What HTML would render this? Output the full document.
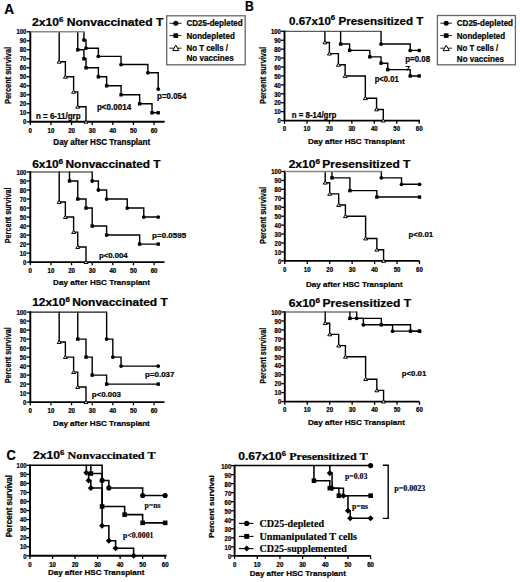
<!DOCTYPE html>
<html><head><meta charset="utf-8"><style>
html,body{margin:0;padding:0;background:#fff;}
body{width:520px;height:582px;overflow:hidden;}
svg{display:block;}
.sans{font-family:"Liberation Sans", sans-serif;font-weight:bold;stroke:#000;stroke-width:0.22px;}
.serif{font-family:"Liberation Serif", serif;font-weight:bold;stroke:#000;stroke-width:0.15px;}
</style></head><body>
<svg width="520" height="582" viewBox="0 0 520 582">
<rect width="520" height="582" fill="#fff"/>
<text x="4.2" y="13.9" class="sans" font-size="14.4" textLength="9.8" lengthAdjust="spacingAndGlyphs" fill="#000">A</text>
<text x="245" y="11.1" class="sans" font-size="14" textLength="8.8" lengthAdjust="spacingAndGlyphs" fill="#000">B</text>
<text x="6.4" y="459.5" class="sans" font-size="14.6" textLength="9.3" lengthAdjust="spacingAndGlyphs" fill="#000">C</text>
<line x1="26.7" y1="121.8" x2="30.3" y2="121.8" stroke="#000" stroke-width="1.3"/>
<text x="26.4" y="124.3" class="sans" font-size="6.5" text-anchor="end" textLength="3.3" lengthAdjust="spacingAndGlyphs" fill="#000">0</text>
<line x1="26.7" y1="112.8" x2="30.3" y2="112.8" stroke="#000" stroke-width="1.3"/>
<text x="26.4" y="115.3" class="sans" font-size="6.5" text-anchor="end" textLength="6.6" lengthAdjust="spacingAndGlyphs" fill="#000">10</text>
<line x1="26.7" y1="103.8" x2="30.3" y2="103.8" stroke="#000" stroke-width="1.3"/>
<text x="26.4" y="106.3" class="sans" font-size="6.5" text-anchor="end" textLength="6.6" lengthAdjust="spacingAndGlyphs" fill="#000">20</text>
<line x1="26.7" y1="94.8" x2="30.3" y2="94.8" stroke="#000" stroke-width="1.3"/>
<text x="26.4" y="97.3" class="sans" font-size="6.5" text-anchor="end" textLength="6.6" lengthAdjust="spacingAndGlyphs" fill="#000">30</text>
<line x1="26.7" y1="85.8" x2="30.3" y2="85.8" stroke="#000" stroke-width="1.3"/>
<text x="26.4" y="88.3" class="sans" font-size="6.5" text-anchor="end" textLength="6.6" lengthAdjust="spacingAndGlyphs" fill="#000">40</text>
<line x1="26.7" y1="76.8" x2="30.3" y2="76.8" stroke="#000" stroke-width="1.3"/>
<text x="26.4" y="79.3" class="sans" font-size="6.5" text-anchor="end" textLength="6.6" lengthAdjust="spacingAndGlyphs" fill="#000">50</text>
<line x1="26.7" y1="67.8" x2="30.3" y2="67.8" stroke="#000" stroke-width="1.3"/>
<text x="26.4" y="70.3" class="sans" font-size="6.5" text-anchor="end" textLength="6.6" lengthAdjust="spacingAndGlyphs" fill="#000">60</text>
<line x1="26.7" y1="58.8" x2="30.3" y2="58.8" stroke="#000" stroke-width="1.3"/>
<text x="26.4" y="61.3" class="sans" font-size="6.5" text-anchor="end" textLength="6.6" lengthAdjust="spacingAndGlyphs" fill="#000">70</text>
<line x1="26.7" y1="49.8" x2="30.3" y2="49.8" stroke="#000" stroke-width="1.3"/>
<text x="26.4" y="52.3" class="sans" font-size="6.5" text-anchor="end" textLength="6.6" lengthAdjust="spacingAndGlyphs" fill="#000">80</text>
<line x1="26.7" y1="40.8" x2="30.3" y2="40.8" stroke="#000" stroke-width="1.3"/>
<text x="26.4" y="43.3" class="sans" font-size="6.5" text-anchor="end" textLength="6.6" lengthAdjust="spacingAndGlyphs" fill="#000">90</text>
<line x1="26.7" y1="31.8" x2="30.3" y2="31.8" stroke="#000" stroke-width="1.3"/>
<text x="26.4" y="34.3" class="sans" font-size="6.5" text-anchor="end" textLength="9.9" lengthAdjust="spacingAndGlyphs" fill="#000">100</text>
<line x1="30.3" y1="121.8" x2="30.3" y2="125" stroke="#000" stroke-width="1.3"/>
<text x="30.3" y="132.8" class="sans" font-size="6.4" text-anchor="middle" textLength="3.4" lengthAdjust="spacingAndGlyphs" fill="#000">0</text>
<line x1="50.93" y1="121.8" x2="50.93" y2="125" stroke="#000" stroke-width="1.3"/>
<text x="50.93" y="132.8" class="sans" font-size="6.4" text-anchor="middle" textLength="6.8" lengthAdjust="spacingAndGlyphs" fill="#000">10</text>
<line x1="71.56" y1="121.8" x2="71.56" y2="125" stroke="#000" stroke-width="1.3"/>
<text x="71.56" y="132.8" class="sans" font-size="6.4" text-anchor="middle" textLength="6.8" lengthAdjust="spacingAndGlyphs" fill="#000">20</text>
<line x1="92.19" y1="121.8" x2="92.19" y2="125" stroke="#000" stroke-width="1.3"/>
<text x="92.19" y="132.8" class="sans" font-size="6.4" text-anchor="middle" textLength="6.8" lengthAdjust="spacingAndGlyphs" fill="#000">30</text>
<line x1="112.82" y1="121.8" x2="112.82" y2="125" stroke="#000" stroke-width="1.3"/>
<text x="112.82" y="132.8" class="sans" font-size="6.4" text-anchor="middle" textLength="6.8" lengthAdjust="spacingAndGlyphs" fill="#000">40</text>
<line x1="133.45" y1="121.8" x2="133.45" y2="125" stroke="#000" stroke-width="1.3"/>
<text x="133.45" y="132.8" class="sans" font-size="6.4" text-anchor="middle" textLength="6.8" lengthAdjust="spacingAndGlyphs" fill="#000">50</text>
<line x1="154.08" y1="121.8" x2="154.08" y2="125" stroke="#000" stroke-width="1.3"/>
<text x="154.08" y="132.8" class="sans" font-size="6.4" text-anchor="middle" textLength="6.8" lengthAdjust="spacingAndGlyphs" fill="#000">60</text>
<path d="M30.3 31V121.8H164.7" fill="none" stroke="#000" stroke-width="1.9"/>
<text x="0" y="0" class="sans" font-size="8.5" text-anchor="middle" textLength="57" lengthAdjust="spacingAndGlyphs" transform="translate(11.1 75.4) rotate(-90)">Percent survival</text>
<text x="53.3" y="145.1" class="sans" font-size="8.2" textLength="96.9" lengthAdjust="spacingAndGlyphs" fill="#000">Day after HSC Transplant</text>
<path d="M59.18 32.1V61.77H65.37V76.8H73.62V91.83H77.75V106.77H86V121.8" fill="none" stroke="#000" stroke-width="1.4" stroke-linejoin="miter" stroke-linecap="square"/>
<path d="M77.75 32.1V49.8H83.94V58.8H86V67.8H98.38V76.8H106.63V85.8H121.07V94.8H139.64V103.8H152.02V112.8H158.21" fill="none" stroke="#000" stroke-width="1.4" stroke-linejoin="miter" stroke-linecap="square"/>
<path d="M83.94 32.1V39.99H86V48.18H98.38V56.37H121.07V64.56H147.89V72.75H158.21V89.04" fill="none" stroke="#000" stroke-width="1.4" stroke-linejoin="miter" stroke-linecap="square"/>
<line x1="30.3" y1="31.8" x2="84.34" y2="31.8" stroke="#8a8a8a" stroke-width="1.4"/>
<path d="M57.18 63.17L61.18 63.17L59.18 60.17Z" fill="#fff" stroke="#000" stroke-width="1"/>
<path d="M63.37 78.2L67.37 78.2L65.37 75.2Z" fill="#fff" stroke="#000" stroke-width="1"/>
<path d="M71.62 93.23L75.62 93.23L73.62 90.23Z" fill="#fff" stroke="#000" stroke-width="1"/>
<path d="M75.75 108.17L79.75 108.17L77.75 105.17Z" fill="#fff" stroke="#000" stroke-width="1"/>
<path d="M84 123.2L88 123.2L86 120.2Z" fill="#fff" stroke="#000" stroke-width="1"/>
<rect x="76.05" y="48.1" width="3.4" height="3.4" fill="#000"/>
<rect x="82.24" y="57.1" width="3.4" height="3.4" fill="#000"/>
<rect x="84.3" y="66.1" width="3.4" height="3.4" fill="#000"/>
<rect x="96.68" y="75.1" width="3.4" height="3.4" fill="#000"/>
<rect x="104.93" y="84.1" width="3.4" height="3.4" fill="#000"/>
<rect x="119.37" y="93.1" width="3.4" height="3.4" fill="#000"/>
<rect x="137.94" y="102.1" width="3.4" height="3.4" fill="#000"/>
<rect x="150.32" y="111.1" width="3.4" height="3.4" fill="#000"/>
<rect x="156.51" y="111.1" width="3.4" height="3.4" fill="#000"/>
<circle cx="83.94" cy="39.99" r="1.9" fill="#000"/>
<circle cx="86" cy="48.18" r="1.9" fill="#000"/>
<circle cx="98.38" cy="56.37" r="1.9" fill="#000"/>
<circle cx="121.07" cy="64.56" r="1.9" fill="#000"/>
<circle cx="147.89" cy="72.75" r="1.9" fill="#000"/>
<circle cx="158.21" cy="89.04" r="1.9" fill="#000"/>
<text x="32" y="26.1" class="sans" font-size="10.9" textLength="131.5" lengthAdjust="spacingAndGlyphs" fill="#000">2x10<tspan font-size="7.2" dy="-4.3">6</tspan><tspan dy="4.3"> Nonvaccinated T</tspan></text>
<text x="35.9" y="118.7" class="sans" font-size="8.4" textLength="44.7" lengthAdjust="spacingAndGlyphs" fill="#000">n = 6-11/grp</text>
<text x="96.9" y="110.4" class="sans" font-size="8.4" textLength="34.3" lengthAdjust="spacingAndGlyphs" fill="#000">p&lt;0.0014</text>
<text x="157.1" y="98.7" class="sans" font-size="8.4" textLength="29.3" lengthAdjust="spacingAndGlyphs" fill="#000">p=0.054</text>
<rect x="166.7" y="15.8" width="78.5" height="49" fill="none" stroke="#666" stroke-width="1.3"/>
<line x1="169.4" y1="23.3" x2="181.5" y2="23.3" stroke="#222" stroke-width="1"/>
<circle cx="175.8" cy="23.3" r="2.5" fill="#000"/>
<text x="186.5" y="26.4" class="sans" font-size="8.6" textLength="56.2" lengthAdjust="spacingAndGlyphs" fill="#000">CD25-depleted</text>
<line x1="169.4" y1="35.6" x2="181.5" y2="35.6" stroke="#222" stroke-width="1"/>
<rect x="173.5" y="33.3" width="4.6" height="4.6" fill="#000"/>
<text x="186.5" y="38.7" class="sans" font-size="8.6" textLength="48.3" lengthAdjust="spacingAndGlyphs" fill="#000">Nondepleted</text>
<line x1="169.4" y1="48.2" x2="181.5" y2="48.2" stroke="#222" stroke-width="1"/>
<path d="M172.7 50.6L178.9 50.6L175.8 45.2Z" fill="#fff" stroke="#000" stroke-width="1"/>
<text x="186.5" y="51.3" class="sans" font-size="8.6" textLength="41.5" lengthAdjust="spacingAndGlyphs" fill="#000">No T cells /</text>
<text x="186.5" y="61.4" class="sans" font-size="8.6" textLength="47.2" lengthAdjust="spacingAndGlyphs" fill="#000">No vaccines</text>
<line x1="26.7" y1="262.1" x2="30.3" y2="262.1" stroke="#000" stroke-width="1.3"/>
<text x="26.3" y="264.8" class="sans" font-size="6.5" text-anchor="end" textLength="3.3" lengthAdjust="spacingAndGlyphs" fill="#000">0</text>
<line x1="26.7" y1="253.09" x2="30.3" y2="253.09" stroke="#000" stroke-width="1.3"/>
<text x="26.3" y="255.79" class="sans" font-size="6.5" text-anchor="end" textLength="6.6" lengthAdjust="spacingAndGlyphs" fill="#000">10</text>
<line x1="26.7" y1="244.08" x2="30.3" y2="244.08" stroke="#000" stroke-width="1.3"/>
<text x="26.3" y="246.78" class="sans" font-size="6.5" text-anchor="end" textLength="6.6" lengthAdjust="spacingAndGlyphs" fill="#000">20</text>
<line x1="26.7" y1="235.07" x2="30.3" y2="235.07" stroke="#000" stroke-width="1.3"/>
<text x="26.3" y="237.77" class="sans" font-size="6.5" text-anchor="end" textLength="6.6" lengthAdjust="spacingAndGlyphs" fill="#000">30</text>
<line x1="26.7" y1="226.06" x2="30.3" y2="226.06" stroke="#000" stroke-width="1.3"/>
<text x="26.3" y="228.76" class="sans" font-size="6.5" text-anchor="end" textLength="6.6" lengthAdjust="spacingAndGlyphs" fill="#000">40</text>
<line x1="26.7" y1="217.05" x2="30.3" y2="217.05" stroke="#000" stroke-width="1.3"/>
<text x="26.3" y="219.75" class="sans" font-size="6.5" text-anchor="end" textLength="6.6" lengthAdjust="spacingAndGlyphs" fill="#000">50</text>
<line x1="26.7" y1="208.04" x2="30.3" y2="208.04" stroke="#000" stroke-width="1.3"/>
<text x="26.3" y="210.74" class="sans" font-size="6.5" text-anchor="end" textLength="6.6" lengthAdjust="spacingAndGlyphs" fill="#000">60</text>
<line x1="26.7" y1="199.03" x2="30.3" y2="199.03" stroke="#000" stroke-width="1.3"/>
<text x="26.3" y="201.73" class="sans" font-size="6.5" text-anchor="end" textLength="6.6" lengthAdjust="spacingAndGlyphs" fill="#000">70</text>
<line x1="26.7" y1="190.02" x2="30.3" y2="190.02" stroke="#000" stroke-width="1.3"/>
<text x="26.3" y="192.72" class="sans" font-size="6.5" text-anchor="end" textLength="6.6" lengthAdjust="spacingAndGlyphs" fill="#000">80</text>
<line x1="26.7" y1="181.01" x2="30.3" y2="181.01" stroke="#000" stroke-width="1.3"/>
<text x="26.3" y="183.71" class="sans" font-size="6.5" text-anchor="end" textLength="6.6" lengthAdjust="spacingAndGlyphs" fill="#000">90</text>
<line x1="26.7" y1="172" x2="30.3" y2="172" stroke="#000" stroke-width="1.3"/>
<text x="26.3" y="174.7" class="sans" font-size="6.5" text-anchor="end" textLength="9.9" lengthAdjust="spacingAndGlyphs" fill="#000">100</text>
<line x1="30.3" y1="262.1" x2="30.3" y2="265.3" stroke="#000" stroke-width="1.3"/>
<text x="30.3" y="272.7" class="sans" font-size="6.4" text-anchor="middle" textLength="3.4" lengthAdjust="spacingAndGlyphs" fill="#000">0</text>
<line x1="50.93" y1="262.1" x2="50.93" y2="265.3" stroke="#000" stroke-width="1.3"/>
<text x="50.93" y="272.7" class="sans" font-size="6.4" text-anchor="middle" textLength="6.8" lengthAdjust="spacingAndGlyphs" fill="#000">10</text>
<line x1="71.56" y1="262.1" x2="71.56" y2="265.3" stroke="#000" stroke-width="1.3"/>
<text x="71.56" y="272.7" class="sans" font-size="6.4" text-anchor="middle" textLength="6.8" lengthAdjust="spacingAndGlyphs" fill="#000">20</text>
<line x1="92.19" y1="262.1" x2="92.19" y2="265.3" stroke="#000" stroke-width="1.3"/>
<text x="92.19" y="272.7" class="sans" font-size="6.4" text-anchor="middle" textLength="6.8" lengthAdjust="spacingAndGlyphs" fill="#000">30</text>
<line x1="112.82" y1="262.1" x2="112.82" y2="265.3" stroke="#000" stroke-width="1.3"/>
<text x="112.82" y="272.7" class="sans" font-size="6.4" text-anchor="middle" textLength="6.8" lengthAdjust="spacingAndGlyphs" fill="#000">40</text>
<line x1="133.45" y1="262.1" x2="133.45" y2="265.3" stroke="#000" stroke-width="1.3"/>
<text x="133.45" y="272.7" class="sans" font-size="6.4" text-anchor="middle" textLength="6.8" lengthAdjust="spacingAndGlyphs" fill="#000">50</text>
<line x1="154.08" y1="262.1" x2="154.08" y2="265.3" stroke="#000" stroke-width="1.3"/>
<text x="154.08" y="272.7" class="sans" font-size="6.4" text-anchor="middle" textLength="6.8" lengthAdjust="spacingAndGlyphs" fill="#000">60</text>
<path d="M30.3 171.2V262.1H164.5" fill="none" stroke="#000" stroke-width="1.9"/>
<text x="0" y="0" class="sans" font-size="8.5" text-anchor="middle" textLength="55.7" lengthAdjust="spacingAndGlyphs" transform="translate(11 215.4) rotate(-90)">Percent survival</text>
<text x="53.1" y="285.4" class="sans" font-size="8" textLength="96.9" lengthAdjust="spacingAndGlyphs" fill="#000">Day after HSC Transplant</text>
<path d="M59.18 172.3V202H65.37V217.05H73.62V232.1H77.75V247.05H86V262.1" fill="none" stroke="#000" stroke-width="1.4" stroke-linejoin="miter" stroke-linecap="square"/>
<path d="M69.5 172.3V181.01H77.75V199.03H86V208.04H92.19V226.06H106.63V235.07H139.64V244.08H158.21" fill="none" stroke="#000" stroke-width="1.4" stroke-linejoin="miter" stroke-linecap="square"/>
<path d="M92.19 172.3V181.01H98.38V190.02H106.63V199.03H127.26V208.04H143.77V217.05H158.21" fill="none" stroke="#000" stroke-width="1.4" stroke-linejoin="miter" stroke-linecap="square"/>
<line x1="30.3" y1="172" x2="92.59" y2="172" stroke="#1a1a1a" stroke-width="1.2"/>
<path d="M57.18 203.4L61.18 203.4L59.18 200.4Z" fill="#fff" stroke="#000" stroke-width="1"/>
<path d="M63.37 218.45L67.37 218.45L65.37 215.45Z" fill="#fff" stroke="#000" stroke-width="1"/>
<path d="M71.62 233.5L75.62 233.5L73.62 230.5Z" fill="#fff" stroke="#000" stroke-width="1"/>
<path d="M75.75 248.45L79.75 248.45L77.75 245.45Z" fill="#fff" stroke="#000" stroke-width="1"/>
<path d="M84 263.5L88 263.5L86 260.5Z" fill="#fff" stroke="#000" stroke-width="1"/>
<rect x="67.8" y="179.31" width="3.4" height="3.4" fill="#000"/>
<rect x="76.05" y="197.33" width="3.4" height="3.4" fill="#000"/>
<rect x="84.3" y="206.34" width="3.4" height="3.4" fill="#000"/>
<rect x="90.49" y="224.36" width="3.4" height="3.4" fill="#000"/>
<rect x="104.93" y="233.37" width="3.4" height="3.4" fill="#000"/>
<rect x="137.94" y="242.38" width="3.4" height="3.4" fill="#000"/>
<rect x="156.51" y="242.38" width="3.4" height="3.4" fill="#000"/>
<circle cx="92.19" cy="181.01" r="1.9" fill="#000"/>
<circle cx="98.38" cy="190.02" r="1.9" fill="#000"/>
<circle cx="106.63" cy="199.03" r="1.9" fill="#000"/>
<circle cx="127.26" cy="208.04" r="1.9" fill="#000"/>
<circle cx="143.77" cy="217.05" r="1.9" fill="#000"/>
<circle cx="158.21" cy="217.05" r="1.9" fill="#000"/>
<text x="32.2" y="167.9" class="sans" font-size="10.2" textLength="128.4" lengthAdjust="spacingAndGlyphs" fill="#000">6x10<tspan font-size="7" dy="-4.2">6</tspan><tspan dy="4.2"> Nonvaccinated T</tspan></text>
<text x="152.1" y="237.9" class="sans" font-size="8" textLength="34.1" lengthAdjust="spacingAndGlyphs" fill="#000">p=0.0595</text>
<text x="98.9" y="258.2" class="sans" font-size="8" textLength="28.8" lengthAdjust="spacingAndGlyphs" fill="#000">p&lt;0.004</text>
<line x1="26.7" y1="402.1" x2="30.3" y2="402.1" stroke="#000" stroke-width="1.3"/>
<text x="26.3" y="404.8" class="sans" font-size="6.5" text-anchor="end" textLength="3.3" lengthAdjust="spacingAndGlyphs" fill="#000">0</text>
<line x1="26.7" y1="393.1" x2="30.3" y2="393.1" stroke="#000" stroke-width="1.3"/>
<text x="26.3" y="395.8" class="sans" font-size="6.5" text-anchor="end" textLength="6.6" lengthAdjust="spacingAndGlyphs" fill="#000">10</text>
<line x1="26.7" y1="384.1" x2="30.3" y2="384.1" stroke="#000" stroke-width="1.3"/>
<text x="26.3" y="386.8" class="sans" font-size="6.5" text-anchor="end" textLength="6.6" lengthAdjust="spacingAndGlyphs" fill="#000">20</text>
<line x1="26.7" y1="375.1" x2="30.3" y2="375.1" stroke="#000" stroke-width="1.3"/>
<text x="26.3" y="377.8" class="sans" font-size="6.5" text-anchor="end" textLength="6.6" lengthAdjust="spacingAndGlyphs" fill="#000">30</text>
<line x1="26.7" y1="366.1" x2="30.3" y2="366.1" stroke="#000" stroke-width="1.3"/>
<text x="26.3" y="368.8" class="sans" font-size="6.5" text-anchor="end" textLength="6.6" lengthAdjust="spacingAndGlyphs" fill="#000">40</text>
<line x1="26.7" y1="357.1" x2="30.3" y2="357.1" stroke="#000" stroke-width="1.3"/>
<text x="26.3" y="359.8" class="sans" font-size="6.5" text-anchor="end" textLength="6.6" lengthAdjust="spacingAndGlyphs" fill="#000">50</text>
<line x1="26.7" y1="348.1" x2="30.3" y2="348.1" stroke="#000" stroke-width="1.3"/>
<text x="26.3" y="350.8" class="sans" font-size="6.5" text-anchor="end" textLength="6.6" lengthAdjust="spacingAndGlyphs" fill="#000">60</text>
<line x1="26.7" y1="339.1" x2="30.3" y2="339.1" stroke="#000" stroke-width="1.3"/>
<text x="26.3" y="341.8" class="sans" font-size="6.5" text-anchor="end" textLength="6.6" lengthAdjust="spacingAndGlyphs" fill="#000">70</text>
<line x1="26.7" y1="330.1" x2="30.3" y2="330.1" stroke="#000" stroke-width="1.3"/>
<text x="26.3" y="332.8" class="sans" font-size="6.5" text-anchor="end" textLength="6.6" lengthAdjust="spacingAndGlyphs" fill="#000">80</text>
<line x1="26.7" y1="321.1" x2="30.3" y2="321.1" stroke="#000" stroke-width="1.3"/>
<text x="26.3" y="323.8" class="sans" font-size="6.5" text-anchor="end" textLength="6.6" lengthAdjust="spacingAndGlyphs" fill="#000">90</text>
<line x1="26.7" y1="312.1" x2="30.3" y2="312.1" stroke="#000" stroke-width="1.3"/>
<text x="26.3" y="314.8" class="sans" font-size="6.5" text-anchor="end" textLength="9.9" lengthAdjust="spacingAndGlyphs" fill="#000">100</text>
<line x1="30.3" y1="402.1" x2="30.3" y2="405.3" stroke="#000" stroke-width="1.3"/>
<text x="30.3" y="412.7" class="sans" font-size="6.4" text-anchor="middle" textLength="3.4" lengthAdjust="spacingAndGlyphs" fill="#000">0</text>
<line x1="50.93" y1="402.1" x2="50.93" y2="405.3" stroke="#000" stroke-width="1.3"/>
<text x="50.93" y="412.7" class="sans" font-size="6.4" text-anchor="middle" textLength="6.8" lengthAdjust="spacingAndGlyphs" fill="#000">10</text>
<line x1="71.56" y1="402.1" x2="71.56" y2="405.3" stroke="#000" stroke-width="1.3"/>
<text x="71.56" y="412.7" class="sans" font-size="6.4" text-anchor="middle" textLength="6.8" lengthAdjust="spacingAndGlyphs" fill="#000">20</text>
<line x1="92.19" y1="402.1" x2="92.19" y2="405.3" stroke="#000" stroke-width="1.3"/>
<text x="92.19" y="412.7" class="sans" font-size="6.4" text-anchor="middle" textLength="6.8" lengthAdjust="spacingAndGlyphs" fill="#000">30</text>
<line x1="112.82" y1="402.1" x2="112.82" y2="405.3" stroke="#000" stroke-width="1.3"/>
<text x="112.82" y="412.7" class="sans" font-size="6.4" text-anchor="middle" textLength="6.8" lengthAdjust="spacingAndGlyphs" fill="#000">40</text>
<line x1="133.45" y1="402.1" x2="133.45" y2="405.3" stroke="#000" stroke-width="1.3"/>
<text x="133.45" y="412.7" class="sans" font-size="6.4" text-anchor="middle" textLength="6.8" lengthAdjust="spacingAndGlyphs" fill="#000">50</text>
<line x1="154.08" y1="402.1" x2="154.08" y2="405.3" stroke="#000" stroke-width="1.3"/>
<text x="154.08" y="412.7" class="sans" font-size="6.4" text-anchor="middle" textLength="6.8" lengthAdjust="spacingAndGlyphs" fill="#000">60</text>
<path d="M30.3 311.3V402.1H164.5" fill="none" stroke="#000" stroke-width="1.9"/>
<text x="0" y="0" class="sans" font-size="8.5" text-anchor="middle" textLength="56.1" lengthAdjust="spacingAndGlyphs" transform="translate(11 355.3) rotate(-90)">Percent survival</text>
<text x="53.1" y="425.9" class="sans" font-size="8" textLength="96.7" lengthAdjust="spacingAndGlyphs" fill="#000">Day after HSC Transplant</text>
<path d="M59.18 312.4V342.07H65.37V357.1H73.62V372.13H77.75V387.07H86V402.1" fill="none" stroke="#000" stroke-width="1.4" stroke-linejoin="miter" stroke-linecap="square"/>
<path d="M77.75 312.4V339.1H86V357.1H92.19V375.1H106.63V384.1H158.21" fill="none" stroke="#000" stroke-width="1.4" stroke-linejoin="miter" stroke-linecap="square"/>
<path d="M106.63 312.4V339.1H112.82V357.1H121.07V366.1H158.21" fill="none" stroke="#000" stroke-width="1.4" stroke-linejoin="miter" stroke-linecap="square"/>
<line x1="30.3" y1="312.1" x2="107.03" y2="312.1" stroke="#1a1a1a" stroke-width="1.2"/>
<path d="M57.18 343.47L61.18 343.47L59.18 340.47Z" fill="#fff" stroke="#000" stroke-width="1"/>
<path d="M63.37 358.5L67.37 358.5L65.37 355.5Z" fill="#fff" stroke="#000" stroke-width="1"/>
<path d="M71.62 373.53L75.62 373.53L73.62 370.53Z" fill="#fff" stroke="#000" stroke-width="1"/>
<path d="M75.75 388.47L79.75 388.47L77.75 385.47Z" fill="#fff" stroke="#000" stroke-width="1"/>
<path d="M84 403.5L88 403.5L86 400.5Z" fill="#fff" stroke="#000" stroke-width="1"/>
<rect x="76.05" y="337.4" width="3.4" height="3.4" fill="#000"/>
<rect x="84.3" y="355.4" width="3.4" height="3.4" fill="#000"/>
<rect x="90.49" y="373.4" width="3.4" height="3.4" fill="#000"/>
<rect x="104.93" y="382.4" width="3.4" height="3.4" fill="#000"/>
<rect x="156.51" y="382.4" width="3.4" height="3.4" fill="#000"/>
<circle cx="106.63" cy="339.1" r="1.9" fill="#000"/>
<circle cx="112.82" cy="357.1" r="1.9" fill="#000"/>
<circle cx="121.07" cy="366.1" r="1.9" fill="#000"/>
<circle cx="158.21" cy="366.1" r="1.9" fill="#000"/>
<text x="32.2" y="306.4" class="sans" font-size="10.6" textLength="135.6" lengthAdjust="spacingAndGlyphs" fill="#000">12x10<tspan font-size="7" dy="-4.2">6</tspan><tspan dy="4.2"> Nonvaccinated T</tspan></text>
<text x="145" y="376.6" class="sans" font-size="8" textLength="29.4" lengthAdjust="spacingAndGlyphs" fill="#000">p=0.037</text>
<text x="91.7" y="396.8" class="sans" font-size="8" textLength="29.3" lengthAdjust="spacingAndGlyphs" fill="#000">p&lt;0.003</text>
<line x1="280.9" y1="120.6" x2="284.5" y2="120.6" stroke="#000" stroke-width="1.3"/>
<text x="280.9" y="123.3" class="sans" font-size="6.5" text-anchor="end" textLength="3.3" lengthAdjust="spacingAndGlyphs" fill="#000">0</text>
<line x1="280.9" y1="111.67" x2="284.5" y2="111.67" stroke="#000" stroke-width="1.3"/>
<text x="280.9" y="114.37" class="sans" font-size="6.5" text-anchor="end" textLength="6.6" lengthAdjust="spacingAndGlyphs" fill="#000">10</text>
<line x1="280.9" y1="102.74" x2="284.5" y2="102.74" stroke="#000" stroke-width="1.3"/>
<text x="280.9" y="105.44" class="sans" font-size="6.5" text-anchor="end" textLength="6.6" lengthAdjust="spacingAndGlyphs" fill="#000">20</text>
<line x1="280.9" y1="93.81" x2="284.5" y2="93.81" stroke="#000" stroke-width="1.3"/>
<text x="280.9" y="96.51" class="sans" font-size="6.5" text-anchor="end" textLength="6.6" lengthAdjust="spacingAndGlyphs" fill="#000">30</text>
<line x1="280.9" y1="84.88" x2="284.5" y2="84.88" stroke="#000" stroke-width="1.3"/>
<text x="280.9" y="87.58" class="sans" font-size="6.5" text-anchor="end" textLength="6.6" lengthAdjust="spacingAndGlyphs" fill="#000">40</text>
<line x1="280.9" y1="75.95" x2="284.5" y2="75.95" stroke="#000" stroke-width="1.3"/>
<text x="280.9" y="78.65" class="sans" font-size="6.5" text-anchor="end" textLength="6.6" lengthAdjust="spacingAndGlyphs" fill="#000">50</text>
<line x1="280.9" y1="67.02" x2="284.5" y2="67.02" stroke="#000" stroke-width="1.3"/>
<text x="280.9" y="69.72" class="sans" font-size="6.5" text-anchor="end" textLength="6.6" lengthAdjust="spacingAndGlyphs" fill="#000">60</text>
<line x1="280.9" y1="58.09" x2="284.5" y2="58.09" stroke="#000" stroke-width="1.3"/>
<text x="280.9" y="60.79" class="sans" font-size="6.5" text-anchor="end" textLength="6.6" lengthAdjust="spacingAndGlyphs" fill="#000">70</text>
<line x1="280.9" y1="49.16" x2="284.5" y2="49.16" stroke="#000" stroke-width="1.3"/>
<text x="280.9" y="51.86" class="sans" font-size="6.5" text-anchor="end" textLength="6.6" lengthAdjust="spacingAndGlyphs" fill="#000">80</text>
<line x1="280.9" y1="40.23" x2="284.5" y2="40.23" stroke="#000" stroke-width="1.3"/>
<text x="280.9" y="42.93" class="sans" font-size="6.5" text-anchor="end" textLength="6.6" lengthAdjust="spacingAndGlyphs" fill="#000">90</text>
<line x1="280.9" y1="31.3" x2="284.5" y2="31.3" stroke="#000" stroke-width="1.3"/>
<text x="280.9" y="34" class="sans" font-size="6.5" text-anchor="end" textLength="9.9" lengthAdjust="spacingAndGlyphs" fill="#000">100</text>
<line x1="284.5" y1="120.6" x2="284.5" y2="123.8" stroke="#000" stroke-width="1.3"/>
<text x="284.5" y="131.2" class="sans" font-size="6.4" text-anchor="middle" textLength="3.4" lengthAdjust="spacingAndGlyphs" fill="#000">0</text>
<line x1="306.95" y1="120.6" x2="306.95" y2="123.8" stroke="#000" stroke-width="1.3"/>
<text x="306.95" y="131.2" class="sans" font-size="6.4" text-anchor="middle" textLength="6.8" lengthAdjust="spacingAndGlyphs" fill="#000">10</text>
<line x1="329.4" y1="120.6" x2="329.4" y2="123.8" stroke="#000" stroke-width="1.3"/>
<text x="329.4" y="131.2" class="sans" font-size="6.4" text-anchor="middle" textLength="6.8" lengthAdjust="spacingAndGlyphs" fill="#000">20</text>
<line x1="351.85" y1="120.6" x2="351.85" y2="123.8" stroke="#000" stroke-width="1.3"/>
<text x="351.85" y="131.2" class="sans" font-size="6.4" text-anchor="middle" textLength="6.8" lengthAdjust="spacingAndGlyphs" fill="#000">30</text>
<line x1="374.3" y1="120.6" x2="374.3" y2="123.8" stroke="#000" stroke-width="1.3"/>
<text x="374.3" y="131.2" class="sans" font-size="6.4" text-anchor="middle" textLength="6.8" lengthAdjust="spacingAndGlyphs" fill="#000">40</text>
<line x1="396.75" y1="120.6" x2="396.75" y2="123.8" stroke="#000" stroke-width="1.3"/>
<text x="396.75" y="131.2" class="sans" font-size="6.4" text-anchor="middle" textLength="6.8" lengthAdjust="spacingAndGlyphs" fill="#000">50</text>
<line x1="419.2" y1="120.6" x2="419.2" y2="123.8" stroke="#000" stroke-width="1.3"/>
<text x="419.2" y="131.2" class="sans" font-size="6.4" text-anchor="middle" textLength="6.8" lengthAdjust="spacingAndGlyphs" fill="#000">60</text>
<path d="M284.5 30.5V120.6H420" fill="none" stroke="#000" stroke-width="1.9"/>
<text x="0" y="0" class="sans" font-size="8.5" text-anchor="middle" textLength="57" lengthAdjust="spacingAndGlyphs" transform="translate(265.5 75.4) rotate(-90)">Percent survival</text>
<text x="308" y="144" class="sans" font-size="8" textLength="96.6" lengthAdjust="spacingAndGlyphs" fill="#000">Day after HSC Transplant</text>
<path d="M324.91 31.6V42.46H329.4V53.62H338.38V64.79H345.12V75.95H365.32V98.27H376.55V109.44H383.28V120.6" fill="none" stroke="#000" stroke-width="1.4" stroke-linejoin="miter" stroke-linecap="square"/>
<path d="M340.62 31.6V44.07H349.61V50.41H369.81V56.84H381.04V63.18H387.77V69.61H410.22V75.95H419.2" fill="none" stroke="#000" stroke-width="1.4" stroke-linejoin="miter" stroke-linecap="square"/>
<path d="M381.04 31.6V44.07H410.22V50.41H419.2" fill="none" stroke="#000" stroke-width="1.4" stroke-linejoin="miter" stroke-linecap="square"/>
<line x1="284.5" y1="31.3" x2="381.44" y2="31.3" stroke="#333" stroke-width="1"/>
<path d="M322.91 43.86L326.91 43.86L324.91 40.86Z" fill="#fff" stroke="#000" stroke-width="1"/>
<path d="M327.4 55.02L331.4 55.02L329.4 52.02Z" fill="#fff" stroke="#000" stroke-width="1"/>
<path d="M336.38 66.19L340.38 66.19L338.38 63.19Z" fill="#fff" stroke="#000" stroke-width="1"/>
<path d="M343.12 77.35L347.12 77.35L345.12 74.35Z" fill="#fff" stroke="#000" stroke-width="1"/>
<path d="M363.32 99.67L367.32 99.67L365.32 96.67Z" fill="#fff" stroke="#000" stroke-width="1"/>
<path d="M374.55 110.84L378.55 110.84L376.55 107.84Z" fill="#fff" stroke="#000" stroke-width="1"/>
<path d="M381.28 122L385.28 122L383.28 119Z" fill="#fff" stroke="#000" stroke-width="1"/>
<rect x="338.93" y="42.37" width="3.4" height="3.4" fill="#000"/>
<rect x="347.91" y="48.71" width="3.4" height="3.4" fill="#000"/>
<rect x="368.11" y="55.14" width="3.4" height="3.4" fill="#000"/>
<rect x="379.34" y="61.48" width="3.4" height="3.4" fill="#000"/>
<rect x="386.07" y="67.91" width="3.4" height="3.4" fill="#000"/>
<rect x="408.52" y="74.25" width="3.4" height="3.4" fill="#000"/>
<rect x="417.5" y="74.25" width="3.4" height="3.4" fill="#000"/>
<circle cx="381.04" cy="44.07" r="1.9" fill="#000"/>
<circle cx="410.22" cy="50.41" r="1.9" fill="#000"/>
<circle cx="419.2" cy="50.41" r="1.9" fill="#000"/>
<text x="289" y="24.5" class="sans" font-size="10.5" textLength="134.4" lengthAdjust="spacingAndGlyphs" fill="#000">0.67x10<tspan font-size="7" dy="-4.2">6</tspan><tspan dy="4.2"> Presensitized T</tspan></text>
<text x="291.7" y="117.6" class="sans" font-size="8.3" textLength="44.7" lengthAdjust="spacingAndGlyphs" fill="#000">n = 8-14/grp</text>
<text x="405.2" y="62.3" class="sans" font-size="8.3" textLength="25" lengthAdjust="spacingAndGlyphs" fill="#000">p=0.08</text>
<text x="374.7" y="81.8" class="sans" font-size="8.3" textLength="24" lengthAdjust="spacingAndGlyphs" fill="#000">p&lt;0.01</text>
<path d="M405.5 66.5H409.3L406.8 70.7" fill="none" stroke="#111" stroke-width="1.15"/>
<rect x="437.4" y="15.5" width="78" height="49.3" fill="none" stroke="#666" stroke-width="1.3"/>
<line x1="440.3" y1="23.2" x2="452" y2="23.2" stroke="#222" stroke-width="1"/>
<circle cx="446.2" cy="23.2" r="2.5" fill="#000"/>
<text x="456.8" y="26.4" class="sans" font-size="8.6" textLength="56.2" lengthAdjust="spacingAndGlyphs" fill="#000">CD25-depleted</text>
<line x1="440.3" y1="35.6" x2="452" y2="35.6" stroke="#222" stroke-width="1"/>
<rect x="443.9" y="33.3" width="4.6" height="4.6" fill="#000"/>
<text x="456.8" y="38.8" class="sans" font-size="8.6" textLength="48.3" lengthAdjust="spacingAndGlyphs" fill="#000">Nondepleted</text>
<line x1="440.3" y1="48.2" x2="452" y2="48.2" stroke="#222" stroke-width="1"/>
<path d="M443.1 50.6L449.3 50.6L446.2 45.2Z" fill="#fff" stroke="#000" stroke-width="1"/>
<text x="456.8" y="51.4" class="sans" font-size="8.6" textLength="41.5" lengthAdjust="spacingAndGlyphs" fill="#000">No T cells /</text>
<text x="456.8" y="61.5" class="sans" font-size="8.6" textLength="47.2" lengthAdjust="spacingAndGlyphs" fill="#000">No vaccines</text>
<line x1="281.2" y1="260.9" x2="284.8" y2="260.9" stroke="#000" stroke-width="1.3"/>
<text x="281.2" y="263.6" class="sans" font-size="6.5" text-anchor="end" textLength="3.3" lengthAdjust="spacingAndGlyphs" fill="#000">0</text>
<line x1="281.2" y1="251.96" x2="284.8" y2="251.96" stroke="#000" stroke-width="1.3"/>
<text x="281.2" y="254.66" class="sans" font-size="6.5" text-anchor="end" textLength="6.6" lengthAdjust="spacingAndGlyphs" fill="#000">10</text>
<line x1="281.2" y1="243.02" x2="284.8" y2="243.02" stroke="#000" stroke-width="1.3"/>
<text x="281.2" y="245.72" class="sans" font-size="6.5" text-anchor="end" textLength="6.6" lengthAdjust="spacingAndGlyphs" fill="#000">20</text>
<line x1="281.2" y1="234.08" x2="284.8" y2="234.08" stroke="#000" stroke-width="1.3"/>
<text x="281.2" y="236.78" class="sans" font-size="6.5" text-anchor="end" textLength="6.6" lengthAdjust="spacingAndGlyphs" fill="#000">30</text>
<line x1="281.2" y1="225.14" x2="284.8" y2="225.14" stroke="#000" stroke-width="1.3"/>
<text x="281.2" y="227.84" class="sans" font-size="6.5" text-anchor="end" textLength="6.6" lengthAdjust="spacingAndGlyphs" fill="#000">40</text>
<line x1="281.2" y1="216.2" x2="284.8" y2="216.2" stroke="#000" stroke-width="1.3"/>
<text x="281.2" y="218.9" class="sans" font-size="6.5" text-anchor="end" textLength="6.6" lengthAdjust="spacingAndGlyphs" fill="#000">50</text>
<line x1="281.2" y1="207.26" x2="284.8" y2="207.26" stroke="#000" stroke-width="1.3"/>
<text x="281.2" y="209.96" class="sans" font-size="6.5" text-anchor="end" textLength="6.6" lengthAdjust="spacingAndGlyphs" fill="#000">60</text>
<line x1="281.2" y1="198.32" x2="284.8" y2="198.32" stroke="#000" stroke-width="1.3"/>
<text x="281.2" y="201.02" class="sans" font-size="6.5" text-anchor="end" textLength="6.6" lengthAdjust="spacingAndGlyphs" fill="#000">70</text>
<line x1="281.2" y1="189.38" x2="284.8" y2="189.38" stroke="#000" stroke-width="1.3"/>
<text x="281.2" y="192.08" class="sans" font-size="6.5" text-anchor="end" textLength="6.6" lengthAdjust="spacingAndGlyphs" fill="#000">80</text>
<line x1="281.2" y1="180.44" x2="284.8" y2="180.44" stroke="#000" stroke-width="1.3"/>
<text x="281.2" y="183.14" class="sans" font-size="6.5" text-anchor="end" textLength="6.6" lengthAdjust="spacingAndGlyphs" fill="#000">90</text>
<line x1="281.2" y1="171.5" x2="284.8" y2="171.5" stroke="#000" stroke-width="1.3"/>
<text x="281.2" y="174.2" class="sans" font-size="6.5" text-anchor="end" textLength="9.9" lengthAdjust="spacingAndGlyphs" fill="#000">100</text>
<line x1="284.8" y1="260.9" x2="284.8" y2="264.1" stroke="#000" stroke-width="1.3"/>
<text x="284.8" y="271.5" class="sans" font-size="6.4" text-anchor="middle" textLength="3.4" lengthAdjust="spacingAndGlyphs" fill="#000">0</text>
<line x1="307.25" y1="260.9" x2="307.25" y2="264.1" stroke="#000" stroke-width="1.3"/>
<text x="307.25" y="271.5" class="sans" font-size="6.4" text-anchor="middle" textLength="6.8" lengthAdjust="spacingAndGlyphs" fill="#000">10</text>
<line x1="329.7" y1="260.9" x2="329.7" y2="264.1" stroke="#000" stroke-width="1.3"/>
<text x="329.7" y="271.5" class="sans" font-size="6.4" text-anchor="middle" textLength="6.8" lengthAdjust="spacingAndGlyphs" fill="#000">20</text>
<line x1="352.15" y1="260.9" x2="352.15" y2="264.1" stroke="#000" stroke-width="1.3"/>
<text x="352.15" y="271.5" class="sans" font-size="6.4" text-anchor="middle" textLength="6.8" lengthAdjust="spacingAndGlyphs" fill="#000">30</text>
<line x1="374.6" y1="260.9" x2="374.6" y2="264.1" stroke="#000" stroke-width="1.3"/>
<text x="374.6" y="271.5" class="sans" font-size="6.4" text-anchor="middle" textLength="6.8" lengthAdjust="spacingAndGlyphs" fill="#000">40</text>
<line x1="397.05" y1="260.9" x2="397.05" y2="264.1" stroke="#000" stroke-width="1.3"/>
<text x="397.05" y="271.5" class="sans" font-size="6.4" text-anchor="middle" textLength="6.8" lengthAdjust="spacingAndGlyphs" fill="#000">50</text>
<line x1="419.5" y1="260.9" x2="419.5" y2="264.1" stroke="#000" stroke-width="1.3"/>
<text x="419.5" y="271.5" class="sans" font-size="6.4" text-anchor="middle" textLength="6.8" lengthAdjust="spacingAndGlyphs" fill="#000">60</text>
<path d="M284.8 170.7V260.9H419.5" fill="none" stroke="#000" stroke-width="1.9"/>
<text x="0" y="0" class="sans" font-size="8.5" text-anchor="middle" textLength="57" lengthAdjust="spacingAndGlyphs" transform="translate(265.5 215.4) rotate(-90)">Percent survival</text>
<text x="306" y="286.9" class="sans" font-size="8" textLength="96.6" lengthAdjust="spacingAndGlyphs" fill="#000">Day after HSC Transplant</text>
<path d="M325.21 171.8V182.68H329.7V193.85H338.68V205.03H345.42V216.2H365.62V238.55H376.85V249.72H383.58V260.9" fill="none" stroke="#000" stroke-width="1.4" stroke-linejoin="miter" stroke-linecap="square"/>
<path d="M331.94 171.8V177.85H349.91V190.63H376.85V197.07H419.5" fill="none" stroke="#000" stroke-width="1.4" stroke-linejoin="miter" stroke-linecap="square"/>
<path d="M381.34 171.8V177.85H401.54V184.28H419.5" fill="none" stroke="#000" stroke-width="1.4" stroke-linejoin="miter" stroke-linecap="square"/>
<line x1="284.8" y1="171.5" x2="381.74" y2="171.5" stroke="#888" stroke-width="1.4"/>
<path d="M323.21 184.08L327.21 184.08L325.21 181.08Z" fill="#fff" stroke="#000" stroke-width="1"/>
<path d="M327.7 195.25L331.7 195.25L329.7 192.25Z" fill="#fff" stroke="#000" stroke-width="1"/>
<path d="M336.68 206.43L340.68 206.43L338.68 203.43Z" fill="#fff" stroke="#000" stroke-width="1"/>
<path d="M343.42 217.6L347.42 217.6L345.42 214.6Z" fill="#fff" stroke="#000" stroke-width="1"/>
<path d="M363.62 239.95L367.62 239.95L365.62 236.95Z" fill="#fff" stroke="#000" stroke-width="1"/>
<path d="M374.85 251.12L378.85 251.12L376.85 248.12Z" fill="#fff" stroke="#000" stroke-width="1"/>
<path d="M381.58 262.3L385.58 262.3L383.58 259.3Z" fill="#fff" stroke="#000" stroke-width="1"/>
<rect x="330.25" y="176.15" width="3.4" height="3.4" fill="#000"/>
<rect x="348.21" y="188.93" width="3.4" height="3.4" fill="#000"/>
<rect x="375.15" y="195.37" width="3.4" height="3.4" fill="#000"/>
<rect x="417.8" y="195.37" width="3.4" height="3.4" fill="#000"/>
<circle cx="381.34" cy="177.85" r="1.9" fill="#000"/>
<circle cx="401.54" cy="184.28" r="1.9" fill="#000"/>
<circle cx="419.5" cy="184.28" r="1.9" fill="#000"/>
<text x="288.7" y="167.9" class="sans" font-size="10.4" textLength="121.7" lengthAdjust="spacingAndGlyphs" fill="#000">2x10<tspan font-size="7" dy="-4.2">6</tspan><tspan dy="4.2"> Presensitized T</tspan></text>
<text x="408.5" y="237.3" class="sans" font-size="8" textLength="24.7" lengthAdjust="spacingAndGlyphs" fill="#000">p&lt;0.01</text>
<line x1="281.2" y1="401.6" x2="284.8" y2="401.6" stroke="#000" stroke-width="1.3"/>
<text x="281.2" y="404.3" class="sans" font-size="6.5" text-anchor="end" textLength="3.3" lengthAdjust="spacingAndGlyphs" fill="#000">0</text>
<line x1="281.2" y1="392.64" x2="284.8" y2="392.64" stroke="#000" stroke-width="1.3"/>
<text x="281.2" y="395.34" class="sans" font-size="6.5" text-anchor="end" textLength="6.6" lengthAdjust="spacingAndGlyphs" fill="#000">10</text>
<line x1="281.2" y1="383.68" x2="284.8" y2="383.68" stroke="#000" stroke-width="1.3"/>
<text x="281.2" y="386.38" class="sans" font-size="6.5" text-anchor="end" textLength="6.6" lengthAdjust="spacingAndGlyphs" fill="#000">20</text>
<line x1="281.2" y1="374.72" x2="284.8" y2="374.72" stroke="#000" stroke-width="1.3"/>
<text x="281.2" y="377.42" class="sans" font-size="6.5" text-anchor="end" textLength="6.6" lengthAdjust="spacingAndGlyphs" fill="#000">30</text>
<line x1="281.2" y1="365.76" x2="284.8" y2="365.76" stroke="#000" stroke-width="1.3"/>
<text x="281.2" y="368.46" class="sans" font-size="6.5" text-anchor="end" textLength="6.6" lengthAdjust="spacingAndGlyphs" fill="#000">40</text>
<line x1="281.2" y1="356.8" x2="284.8" y2="356.8" stroke="#000" stroke-width="1.3"/>
<text x="281.2" y="359.5" class="sans" font-size="6.5" text-anchor="end" textLength="6.6" lengthAdjust="spacingAndGlyphs" fill="#000">50</text>
<line x1="281.2" y1="347.84" x2="284.8" y2="347.84" stroke="#000" stroke-width="1.3"/>
<text x="281.2" y="350.54" class="sans" font-size="6.5" text-anchor="end" textLength="6.6" lengthAdjust="spacingAndGlyphs" fill="#000">60</text>
<line x1="281.2" y1="338.88" x2="284.8" y2="338.88" stroke="#000" stroke-width="1.3"/>
<text x="281.2" y="341.58" class="sans" font-size="6.5" text-anchor="end" textLength="6.6" lengthAdjust="spacingAndGlyphs" fill="#000">70</text>
<line x1="281.2" y1="329.92" x2="284.8" y2="329.92" stroke="#000" stroke-width="1.3"/>
<text x="281.2" y="332.62" class="sans" font-size="6.5" text-anchor="end" textLength="6.6" lengthAdjust="spacingAndGlyphs" fill="#000">80</text>
<line x1="281.2" y1="320.96" x2="284.8" y2="320.96" stroke="#000" stroke-width="1.3"/>
<text x="281.2" y="323.66" class="sans" font-size="6.5" text-anchor="end" textLength="6.6" lengthAdjust="spacingAndGlyphs" fill="#000">90</text>
<line x1="281.2" y1="312" x2="284.8" y2="312" stroke="#000" stroke-width="1.3"/>
<text x="281.2" y="314.7" class="sans" font-size="6.5" text-anchor="end" textLength="9.9" lengthAdjust="spacingAndGlyphs" fill="#000">100</text>
<line x1="284.8" y1="401.6" x2="284.8" y2="404.8" stroke="#000" stroke-width="1.3"/>
<text x="284.8" y="412.2" class="sans" font-size="6.4" text-anchor="middle" textLength="3.4" lengthAdjust="spacingAndGlyphs" fill="#000">0</text>
<line x1="307.25" y1="401.6" x2="307.25" y2="404.8" stroke="#000" stroke-width="1.3"/>
<text x="307.25" y="412.2" class="sans" font-size="6.4" text-anchor="middle" textLength="6.8" lengthAdjust="spacingAndGlyphs" fill="#000">10</text>
<line x1="329.7" y1="401.6" x2="329.7" y2="404.8" stroke="#000" stroke-width="1.3"/>
<text x="329.7" y="412.2" class="sans" font-size="6.4" text-anchor="middle" textLength="6.8" lengthAdjust="spacingAndGlyphs" fill="#000">20</text>
<line x1="352.15" y1="401.6" x2="352.15" y2="404.8" stroke="#000" stroke-width="1.3"/>
<text x="352.15" y="412.2" class="sans" font-size="6.4" text-anchor="middle" textLength="6.8" lengthAdjust="spacingAndGlyphs" fill="#000">30</text>
<line x1="374.6" y1="401.6" x2="374.6" y2="404.8" stroke="#000" stroke-width="1.3"/>
<text x="374.6" y="412.2" class="sans" font-size="6.4" text-anchor="middle" textLength="6.8" lengthAdjust="spacingAndGlyphs" fill="#000">40</text>
<line x1="397.05" y1="401.6" x2="397.05" y2="404.8" stroke="#000" stroke-width="1.3"/>
<text x="397.05" y="412.2" class="sans" font-size="6.4" text-anchor="middle" textLength="6.8" lengthAdjust="spacingAndGlyphs" fill="#000">50</text>
<line x1="419.5" y1="401.6" x2="419.5" y2="404.8" stroke="#000" stroke-width="1.3"/>
<text x="419.5" y="412.2" class="sans" font-size="6.4" text-anchor="middle" textLength="6.8" lengthAdjust="spacingAndGlyphs" fill="#000">60</text>
<path d="M284.8 311.2V401.6H419.5" fill="none" stroke="#000" stroke-width="1.9"/>
<text x="0" y="0" class="sans" font-size="8.5" text-anchor="middle" textLength="56.2" lengthAdjust="spacingAndGlyphs" transform="translate(265.5 355.75) rotate(-90)">Percent survival</text>
<text x="308" y="425.1" class="sans" font-size="8" textLength="96.9" lengthAdjust="spacingAndGlyphs" fill="#000">Day after HSC Transplant</text>
<path d="M325.21 312.3V323.2H329.7V334.4H338.68V345.6H345.42V356.8H365.62V379.2H376.85V390.4H383.58V401.6" fill="none" stroke="#000" stroke-width="1.4" stroke-linejoin="miter" stroke-linecap="square"/>
<path d="M356.64 312.3V318.36H363.38V324.81H392.56V331.17H419.5" fill="none" stroke="#000" stroke-width="1.4" stroke-linejoin="miter" stroke-linecap="square"/>
<path d="M349.91 312.3V318.36H381.34V324.81H410.52V331.17H419.5" fill="none" stroke="#000" stroke-width="1.4" stroke-linejoin="miter" stroke-linecap="square"/>
<line x1="284.8" y1="312" x2="357.04" y2="312" stroke="#333" stroke-width="1"/>
<path d="M323.21 324.6L327.21 324.6L325.21 321.6Z" fill="#fff" stroke="#000" stroke-width="1"/>
<path d="M327.7 335.8L331.7 335.8L329.7 332.8Z" fill="#fff" stroke="#000" stroke-width="1"/>
<path d="M336.68 347L340.68 347L338.68 344Z" fill="#fff" stroke="#000" stroke-width="1"/>
<path d="M343.42 358.2L347.42 358.2L345.42 355.2Z" fill="#fff" stroke="#000" stroke-width="1"/>
<path d="M363.62 380.6L367.62 380.6L365.62 377.6Z" fill="#fff" stroke="#000" stroke-width="1"/>
<path d="M374.85 391.8L378.85 391.8L376.85 388.8Z" fill="#fff" stroke="#000" stroke-width="1"/>
<path d="M381.58 403L385.58 403L383.58 400Z" fill="#fff" stroke="#000" stroke-width="1"/>
<circle cx="356.64" cy="318.36" r="1.9" fill="#000"/>
<circle cx="363.38" cy="324.81" r="1.9" fill="#000"/>
<circle cx="392.56" cy="331.17" r="1.9" fill="#000"/>
<circle cx="419.5" cy="331.17" r="1.9" fill="#000"/>
<rect x="348.21" y="316.66" width="3.4" height="3.4" fill="#000"/>
<rect x="379.64" y="323.11" width="3.4" height="3.4" fill="#000"/>
<rect x="408.82" y="329.47" width="3.4" height="3.4" fill="#000"/>
<rect x="417.8" y="329.47" width="3.4" height="3.4" fill="#000"/>
<text x="288.7" y="307.3" class="sans" font-size="10.4" textLength="122.5" lengthAdjust="spacingAndGlyphs" fill="#000">6x10<tspan font-size="7" dy="-4.2">6</tspan><tspan dy="4.2"> Presensitized T</tspan></text>
<text x="401.8" y="376.4" class="sans" font-size="8" textLength="24.5" lengthAdjust="spacingAndGlyphs" fill="#000">p&lt;0.01</text>
<line x1="26.4" y1="555.8" x2="30" y2="555.8" stroke="#000" stroke-width="1.3"/>
<text x="26.5" y="558.5" class="sans" font-size="6.5" text-anchor="end" textLength="3.3" lengthAdjust="spacingAndGlyphs" fill="#000">0</text>
<line x1="26.4" y1="546.75" x2="30" y2="546.75" stroke="#000" stroke-width="1.3"/>
<text x="26.5" y="549.45" class="sans" font-size="6.5" text-anchor="end" textLength="6.6" lengthAdjust="spacingAndGlyphs" fill="#000">10</text>
<line x1="26.4" y1="537.7" x2="30" y2="537.7" stroke="#000" stroke-width="1.3"/>
<text x="26.5" y="540.4" class="sans" font-size="6.5" text-anchor="end" textLength="6.6" lengthAdjust="spacingAndGlyphs" fill="#000">20</text>
<line x1="26.4" y1="528.65" x2="30" y2="528.65" stroke="#000" stroke-width="1.3"/>
<text x="26.5" y="531.35" class="sans" font-size="6.5" text-anchor="end" textLength="6.6" lengthAdjust="spacingAndGlyphs" fill="#000">30</text>
<line x1="26.4" y1="519.6" x2="30" y2="519.6" stroke="#000" stroke-width="1.3"/>
<text x="26.5" y="522.3" class="sans" font-size="6.5" text-anchor="end" textLength="6.6" lengthAdjust="spacingAndGlyphs" fill="#000">40</text>
<line x1="26.4" y1="510.55" x2="30" y2="510.55" stroke="#000" stroke-width="1.3"/>
<text x="26.5" y="513.25" class="sans" font-size="6.5" text-anchor="end" textLength="6.6" lengthAdjust="spacingAndGlyphs" fill="#000">50</text>
<line x1="26.4" y1="501.5" x2="30" y2="501.5" stroke="#000" stroke-width="1.3"/>
<text x="26.5" y="504.2" class="sans" font-size="6.5" text-anchor="end" textLength="6.6" lengthAdjust="spacingAndGlyphs" fill="#000">60</text>
<line x1="26.4" y1="492.45" x2="30" y2="492.45" stroke="#000" stroke-width="1.3"/>
<text x="26.5" y="495.15" class="sans" font-size="6.5" text-anchor="end" textLength="6.6" lengthAdjust="spacingAndGlyphs" fill="#000">70</text>
<line x1="26.4" y1="483.4" x2="30" y2="483.4" stroke="#000" stroke-width="1.3"/>
<text x="26.5" y="486.1" class="sans" font-size="6.5" text-anchor="end" textLength="6.6" lengthAdjust="spacingAndGlyphs" fill="#000">80</text>
<line x1="26.4" y1="474.35" x2="30" y2="474.35" stroke="#000" stroke-width="1.3"/>
<text x="26.5" y="477.05" class="sans" font-size="6.5" text-anchor="end" textLength="6.6" lengthAdjust="spacingAndGlyphs" fill="#000">90</text>
<line x1="26.4" y1="465.3" x2="30" y2="465.3" stroke="#000" stroke-width="1.3"/>
<text x="26.5" y="468" class="sans" font-size="6.5" text-anchor="end" textLength="9.9" lengthAdjust="spacingAndGlyphs" fill="#000">100</text>
<line x1="30" y1="555.8" x2="30" y2="559" stroke="#000" stroke-width="1.3"/>
<text x="30" y="567.1" class="sans" font-size="6.4" text-anchor="middle" textLength="3.4" lengthAdjust="spacingAndGlyphs" fill="#000">0</text>
<line x1="52.53" y1="555.8" x2="52.53" y2="559" stroke="#000" stroke-width="1.3"/>
<text x="52.53" y="567.1" class="sans" font-size="6.4" text-anchor="middle" textLength="6.8" lengthAdjust="spacingAndGlyphs" fill="#000">10</text>
<line x1="75.06" y1="555.8" x2="75.06" y2="559" stroke="#000" stroke-width="1.3"/>
<text x="75.06" y="567.1" class="sans" font-size="6.4" text-anchor="middle" textLength="6.8" lengthAdjust="spacingAndGlyphs" fill="#000">20</text>
<line x1="97.59" y1="555.8" x2="97.59" y2="559" stroke="#000" stroke-width="1.3"/>
<text x="97.59" y="567.1" class="sans" font-size="6.4" text-anchor="middle" textLength="6.8" lengthAdjust="spacingAndGlyphs" fill="#000">30</text>
<line x1="120.12" y1="555.8" x2="120.12" y2="559" stroke="#000" stroke-width="1.3"/>
<text x="120.12" y="567.1" class="sans" font-size="6.4" text-anchor="middle" textLength="6.8" lengthAdjust="spacingAndGlyphs" fill="#000">40</text>
<line x1="142.65" y1="555.8" x2="142.65" y2="559" stroke="#000" stroke-width="1.3"/>
<text x="142.65" y="567.1" class="sans" font-size="6.4" text-anchor="middle" textLength="6.8" lengthAdjust="spacingAndGlyphs" fill="#000">50</text>
<line x1="165.18" y1="555.8" x2="165.18" y2="559" stroke="#000" stroke-width="1.3"/>
<text x="165.18" y="567.1" class="sans" font-size="6.4" text-anchor="middle" textLength="6.8" lengthAdjust="spacingAndGlyphs" fill="#000">60</text>
<path d="M30 464.5V555.8H166.5" fill="none" stroke="#000" stroke-width="1.9"/>
<text x="0" y="0" class="sans" font-size="9" text-anchor="middle" textLength="62.4" lengthAdjust="spacingAndGlyphs" transform="translate(12.1 506.1) rotate(-90)">Percent survival</text>
<text x="47.9" y="575.4" class="sans" font-size="8" textLength="96.5" lengthAdjust="spacingAndGlyphs" fill="#000">Day after HSC Transplant</text>
<path d="M86.33 465.6V472.81H88.58V480.41H90.83V487.93H102.1V525.66H108.86V540.69H115.61V548.29H133.64V555.8" fill="none" stroke="#000" stroke-width="1.55" stroke-linejoin="miter" stroke-linecap="square"/>
<path d="M90.83 465.6V473.54H102.1V506.48H124.63V514.62H142.65V522.86H165.18" fill="none" stroke="#000" stroke-width="1.55" stroke-linejoin="miter" stroke-linecap="square"/>
<path d="M102.1 465.6V480.41H108.86V487.93H142.65V495.44H165.18" fill="none" stroke="#000" stroke-width="1.55" stroke-linejoin="miter" stroke-linecap="square"/>
<line x1="30" y1="465.3" x2="102.5" y2="465.3" stroke="#000" stroke-width="1.5"/>
<path d="M86.33 469.77L89.36 472.81L86.33 475.85L83.29 472.81Z" fill="#000"/>
<path d="M88.58 477.38L91.62 480.41L88.58 483.45L85.54 480.41Z" fill="#000"/>
<path d="M90.83 484.89L93.87 487.93L90.83 490.96L87.79 487.93Z" fill="#000"/>
<path d="M102.1 522.63L105.13 525.66L102.1 528.7L99.06 525.66Z" fill="#000"/>
<path d="M108.86 537.65L111.89 540.69L108.86 543.72L105.82 540.69Z" fill="#000"/>
<path d="M115.61 545.25L118.65 548.29L115.61 551.33L112.58 548.29Z" fill="#000"/>
<path d="M133.64 552.76L136.68 555.8L133.64 558.84L130.6 555.8Z" fill="#000"/>
<rect x="88.54" y="471.24" width="4.59" height="4.59" fill="#000"/>
<rect x="99.8" y="504.18" width="4.59" height="4.59" fill="#000"/>
<rect x="122.33" y="512.33" width="4.59" height="4.59" fill="#000"/>
<rect x="140.36" y="520.56" width="4.59" height="4.59" fill="#000"/>
<rect x="162.89" y="520.56" width="4.59" height="4.59" fill="#000"/>
<circle cx="102.1" cy="480.41" r="2.56" fill="#000"/>
<circle cx="108.86" cy="487.93" r="2.56" fill="#000"/>
<circle cx="142.65" cy="495.44" r="2.56" fill="#000"/>
<circle cx="165.18" cy="495.44" r="2.56" fill="#000"/>
<text x="33" y="459.4" class="sans" font-size="11" textLength="122.6" lengthAdjust="spacingAndGlyphs" fill="#000">2x10<tspan font-size="7.2" dy="-4.3">6</tspan><tspan dy="4.3" font-family='"Liberation Serif", serif'> Nonvaccinated T</tspan></text>
<text x="144.4" y="508.1" class="serif" font-size="8.4" textLength="16.2" lengthAdjust="spacingAndGlyphs" fill="#000">p=ns</text>
<text x="123" y="537.8" class="serif" font-size="8.4" textLength="30.5" lengthAdjust="spacingAndGlyphs" fill="#000">p&lt;0.0001</text>
<line x1="231" y1="555.9" x2="234.6" y2="555.9" stroke="#000" stroke-width="1.3"/>
<text x="231.2" y="558.9" class="sans" font-size="6.5" text-anchor="end" textLength="3.3" lengthAdjust="spacingAndGlyphs" fill="#000">0</text>
<line x1="231" y1="546.87" x2="234.6" y2="546.87" stroke="#000" stroke-width="1.3"/>
<text x="231.2" y="549.87" class="sans" font-size="6.5" text-anchor="end" textLength="6.6" lengthAdjust="spacingAndGlyphs" fill="#000">10</text>
<line x1="231" y1="537.84" x2="234.6" y2="537.84" stroke="#000" stroke-width="1.3"/>
<text x="231.2" y="540.84" class="sans" font-size="6.5" text-anchor="end" textLength="6.6" lengthAdjust="spacingAndGlyphs" fill="#000">20</text>
<line x1="231" y1="528.81" x2="234.6" y2="528.81" stroke="#000" stroke-width="1.3"/>
<text x="231.2" y="531.81" class="sans" font-size="6.5" text-anchor="end" textLength="6.6" lengthAdjust="spacingAndGlyphs" fill="#000">30</text>
<line x1="231" y1="519.78" x2="234.6" y2="519.78" stroke="#000" stroke-width="1.3"/>
<text x="231.2" y="522.78" class="sans" font-size="6.5" text-anchor="end" textLength="6.6" lengthAdjust="spacingAndGlyphs" fill="#000">40</text>
<line x1="231" y1="510.75" x2="234.6" y2="510.75" stroke="#000" stroke-width="1.3"/>
<text x="231.2" y="513.75" class="sans" font-size="6.5" text-anchor="end" textLength="6.6" lengthAdjust="spacingAndGlyphs" fill="#000">50</text>
<line x1="231" y1="501.72" x2="234.6" y2="501.72" stroke="#000" stroke-width="1.3"/>
<text x="231.2" y="504.72" class="sans" font-size="6.5" text-anchor="end" textLength="6.6" lengthAdjust="spacingAndGlyphs" fill="#000">60</text>
<line x1="231" y1="492.69" x2="234.6" y2="492.69" stroke="#000" stroke-width="1.3"/>
<text x="231.2" y="495.69" class="sans" font-size="6.5" text-anchor="end" textLength="6.6" lengthAdjust="spacingAndGlyphs" fill="#000">70</text>
<line x1="231" y1="483.66" x2="234.6" y2="483.66" stroke="#000" stroke-width="1.3"/>
<text x="231.2" y="486.66" class="sans" font-size="6.5" text-anchor="end" textLength="6.6" lengthAdjust="spacingAndGlyphs" fill="#000">80</text>
<line x1="231" y1="474.63" x2="234.6" y2="474.63" stroke="#000" stroke-width="1.3"/>
<text x="231.2" y="477.63" class="sans" font-size="6.5" text-anchor="end" textLength="6.6" lengthAdjust="spacingAndGlyphs" fill="#000">90</text>
<line x1="231" y1="465.6" x2="234.6" y2="465.6" stroke="#000" stroke-width="1.3"/>
<text x="231.2" y="468.6" class="sans" font-size="6.5" text-anchor="end" textLength="9.9" lengthAdjust="spacingAndGlyphs" fill="#000">100</text>
<line x1="234.6" y1="555.9" x2="234.6" y2="559.1" stroke="#000" stroke-width="1.3"/>
<text x="234.6" y="566.5" class="sans" font-size="6.4" text-anchor="middle" textLength="3.4" lengthAdjust="spacingAndGlyphs" fill="#000">0</text>
<line x1="257.27" y1="555.9" x2="257.27" y2="559.1" stroke="#000" stroke-width="1.3"/>
<text x="257.27" y="566.5" class="sans" font-size="6.4" text-anchor="middle" textLength="6.8" lengthAdjust="spacingAndGlyphs" fill="#000">10</text>
<line x1="279.94" y1="555.9" x2="279.94" y2="559.1" stroke="#000" stroke-width="1.3"/>
<text x="279.94" y="566.5" class="sans" font-size="6.4" text-anchor="middle" textLength="6.8" lengthAdjust="spacingAndGlyphs" fill="#000">20</text>
<line x1="302.61" y1="555.9" x2="302.61" y2="559.1" stroke="#000" stroke-width="1.3"/>
<text x="302.61" y="566.5" class="sans" font-size="6.4" text-anchor="middle" textLength="6.8" lengthAdjust="spacingAndGlyphs" fill="#000">30</text>
<line x1="325.28" y1="555.9" x2="325.28" y2="559.1" stroke="#000" stroke-width="1.3"/>
<text x="325.28" y="566.5" class="sans" font-size="6.4" text-anchor="middle" textLength="6.8" lengthAdjust="spacingAndGlyphs" fill="#000">40</text>
<line x1="347.95" y1="555.9" x2="347.95" y2="559.1" stroke="#000" stroke-width="1.3"/>
<text x="347.95" y="566.5" class="sans" font-size="6.4" text-anchor="middle" textLength="6.8" lengthAdjust="spacingAndGlyphs" fill="#000">50</text>
<line x1="370.62" y1="555.9" x2="370.62" y2="559.1" stroke="#000" stroke-width="1.3"/>
<text x="370.62" y="566.5" class="sans" font-size="6.4" text-anchor="middle" textLength="6.8" lengthAdjust="spacingAndGlyphs" fill="#000">60</text>
<path d="M234.6 464.8V555.9H371" fill="none" stroke="#000" stroke-width="1.9"/>
<text x="0" y="0" class="sans" font-size="7.9" text-anchor="middle" textLength="62.8" lengthAdjust="spacingAndGlyphs" transform="translate(214.2 506.6) rotate(-90)">Percent survival</text>
<text x="249.7" y="575.7" class="sans" font-size="8" textLength="96.2" lengthAdjust="spacingAndGlyphs" fill="#000">Day after HSC Transplant</text>
<path d="M313.94 465.9V480.68H329.81V488.18H338.88V495.67H370.62" fill="none" stroke="#000" stroke-width="1.55" stroke-linejoin="miter" stroke-linecap="square"/>
<path d="M329.81 465.9V473.09H332.08V488.18H343.42V495.67H347.95V510.75H350.22V518.24H370.62" fill="none" stroke="#000" stroke-width="1.55" stroke-linejoin="miter" stroke-linecap="square"/>
<line x1="234.6" y1="465.6" x2="371.02" y2="465.6" stroke="#000" stroke-width="1.5"/>
<circle cx="370.62" cy="465.6" r="2.56" fill="#000"/>
<rect x="311.65" y="478.39" width="4.59" height="4.59" fill="#000"/>
<rect x="327.52" y="485.88" width="4.59" height="4.59" fill="#000"/>
<rect x="336.59" y="493.37" width="4.59" height="4.59" fill="#000"/>
<rect x="368.32" y="493.37" width="4.59" height="4.59" fill="#000"/>
<path d="M329.81 470.06L332.85 473.09L329.81 476.13L326.78 473.09Z" fill="#000"/>
<path d="M332.08 485.14L335.12 488.18L332.08 491.21L329.04 488.18Z" fill="#000"/>
<path d="M343.42 492.63L346.45 495.67L343.42 498.71L340.38 495.67Z" fill="#000"/>
<path d="M347.95 507.71L350.99 510.75L347.95 513.79L344.91 510.75Z" fill="#000"/>
<path d="M350.22 515.21L353.25 518.24L350.22 521.28L347.18 518.24Z" fill="#000"/>
<path d="M370.62 515.21L373.66 518.24L370.62 521.28L367.58 518.24Z" fill="#000"/>
<text x="238.2" y="459.8" class="sans" font-size="11" textLength="129.3" lengthAdjust="spacingAndGlyphs" fill="#000">0.67x10<tspan font-size="7.2" dy="-4.3">6</tspan><tspan dy="4.3" font-family='"Liberation Serif", serif'> Presensitized T</tspan></text>
<text x="344.9" y="478.8" class="serif" font-size="8.4" textLength="22.5" lengthAdjust="spacingAndGlyphs" fill="#000">p=0.03</text>
<text x="352" y="508.5" class="serif" font-size="8.4" textLength="16" lengthAdjust="spacingAndGlyphs" fill="#000">p=ns</text>
<text x="394.2" y="490.7" class="serif" font-size="8.4" textLength="31.2" lengthAdjust="spacingAndGlyphs" fill="#000">p=0.0023</text>
<path d="M382.8 465.2H388.2V518.4H382.8" fill="none" stroke="#000" stroke-width="1.4"/>
<line x1="239" y1="523.4" x2="253.5" y2="523.4" stroke="#000" stroke-width="1.1"/>
<circle cx="246.7" cy="523.4" r="2.6" fill="#000"/>
<text x="259.5" y="527" class="serif" font-size="9.6" textLength="64.6" lengthAdjust="spacingAndGlyphs" fill="#000">CD25-depleted</text>
<line x1="239" y1="536.4" x2="253.5" y2="536.4" stroke="#000" stroke-width="1.1"/>
<rect x="244.25" y="533.95" width="4.9" height="4.9" fill="#000"/>
<text x="259.5" y="540" class="serif" font-size="9.6" textLength="97.5" lengthAdjust="spacingAndGlyphs" fill="#000">Unmanipulated T cells</text>
<line x1="239" y1="548.6" x2="253.5" y2="548.6" stroke="#000" stroke-width="1.1"/>
<path d="M246.7 545.61L249.69 548.6L246.7 551.59L243.71 548.6Z" fill="#000"/>
<text x="259.5" y="552.2" class="serif" font-size="9.6" textLength="87.3" lengthAdjust="spacingAndGlyphs" fill="#000">CD25-supplemented</text>
</svg>
</body></html>
